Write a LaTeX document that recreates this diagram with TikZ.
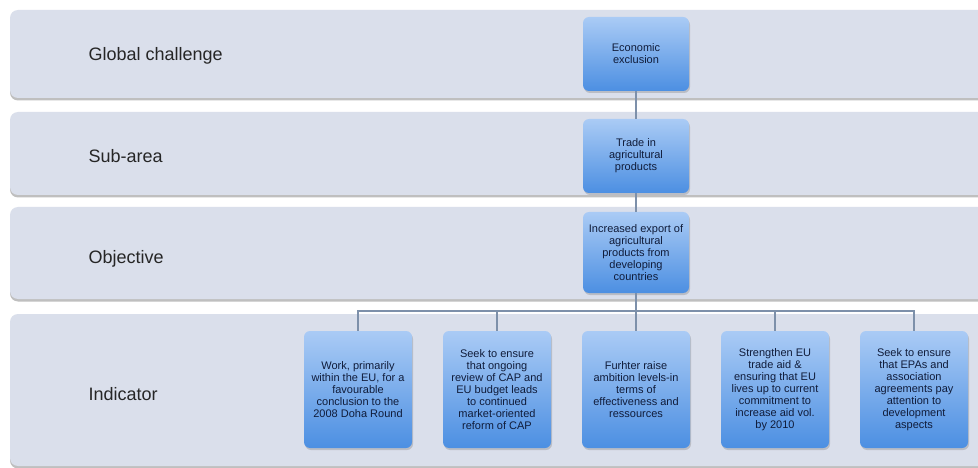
\documentclass[tikz,border=0pt]{standalone}
\usepackage{fontspec}
\setmainfont{Liberation Sans}
\usetikzlibrary{shadows,calc,positioning}
\definecolor{bandfill}{HTML}{DADFEB}
\definecolor{boxtop}{HTML}{AACBF5}
\definecolor{boxbot}{HTML}{4C8FE2}
\definecolor{boxtext}{HTML}{101C3A}
\definecolor{linkcol}{HTML}{7D90AA}
\tikzstyle{band}=[
  fill=bandfill, rounded corners=8pt,
  drop shadow={shadow xshift=0pt, shadow yshift=-2.5pt, opacity=0.5, fill=black!50}
]
\tikzstyle{level}=[
  anchor=west, font=\fontsize{18}{21}\selectfont, text=black!85
]
\tikzstyle{goal}=[
  rounded corners=6pt, top color=boxtop, bottom color=boxbot, text=boxtext,
  align=center, inner sep=2pt, font=\fontsize{11}{12}\selectfont,
  drop shadow={shadow xshift=1pt, shadow yshift=-2pt, opacity=0.35}
]
\tikzstyle{topgoal}=[
  goal, minimum width=106pt, minimum height=74pt
]
\tikzstyle{indgoal}=[
  goal, minimum width=108pt, minimum height=117pt
]
\tikzstyle{link}=[
  draw=linkcol, line width=1.2pt
]
\begin{document}
\begin{tikzpicture}[x=1pt,y=-1pt]
    \path[use as bounding box, clip] (0,0) rectangle (978,468);
    \fill[white] (0,0) rectangle (978,468);
    % level bands
    \path[band] (10,10) rectangle (995,98);
    \path[band] (10,112) rectangle (995,195);
    \path[band] (10,207) rectangle (995,299);
    \path[band] (10,314) rectangle (995,466);
    \node (lch) at (85,56) [level] {Global challenge};
    \node (lsub) at (85,156) [level] {Sub-area};
    \node (lobj) at (85,259) [level] {Objective};
    \node (lind) at (85,394) [level] {Indicator};
    % goal boxes
    \node (ch) at (636,54) [topgoal] {Economic\\exclusion};
    \node (sub) at (636,156) [topgoal] {Trade in\\agricultural\\products};
    \node (obj) at (636,252.5) [topgoal, minimum height=81pt]
      {Increased export of\\agricultural\\products from\\developing\\countries};
    \node (ind1) at (358,389.5) [indgoal]
      {Work, primarily\\within the EU, for a\\favourable\\conclusion to the\\2008 Doha Round};
    \node (ind2) at ($(ind1) + (139,0)$) [indgoal]
      {Seek to ensure\\that ongoing\\review of CAP and\\EU budget leads\\to continued\\market-oriented\\reform of CAP};
    \node (ind3) at ($(ind2) + (139,0)$) [indgoal]
      {Furhter raise\\ambition levels-in\\terms of\\effectiveness and\\ressources};
    \node (ind4) at ($(ind3) + (139,0)$) [indgoal]
      {Strengthen EU\\trade aid \&\\ensuring that EU\\lives up to current\\commitment to\\increase aid vol.\\by 2010};
    \node (ind5) at ($(ind4) + (139,0)$) [indgoal]
      {Seek to ensure\\that EPAs and\\association\\agreements pay\\attention to\\development\\aspects};
    % connectors
    \coordinate (bus) at (636,311);
    \draw [link] (ch) -- (sub);
    \draw [link] (sub) -- (obj);
    \draw [link] (obj) -- (bus);
    \foreach \i in {1,...,5}
      \draw [link] (bus) -| (ind\i.north);
\end{tikzpicture}
\end{document}
